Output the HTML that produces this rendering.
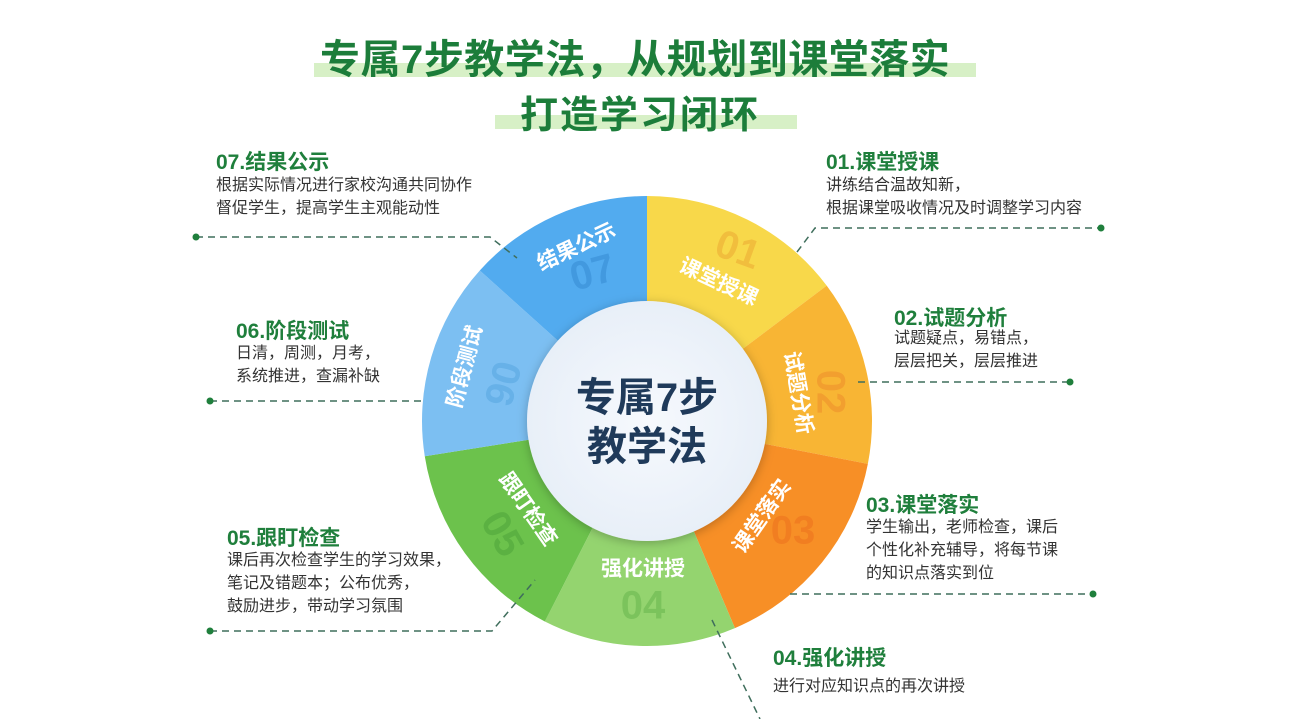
<!DOCTYPE html>
<html><head><meta charset="utf-8"><style>
html,body{margin:0;padding:0;background:#fff;}
body{width:1305px;height:719px;position:relative;overflow:hidden;font-family:"Liberation Sans","Noto Sans CJK SC",sans-serif;}
.t{position:absolute;color:#1c7d3a;font-weight:bold;white-space:nowrap;}
.bar{position:absolute;background:#d7f0c6;}
.h{position:absolute;color:#1f7f3c;font-weight:bold;font-size:21px;white-space:nowrap;}
.p{position:absolute;color:#333;font-size:16px;line-height:23px;white-space:nowrap;}
</style></head><body>
<div class="bar" style="left:314px;top:63px;width:662px;height:14px"></div>
<div class="bar" style="left:495px;top:115px;width:302px;height:14px"></div>
<div class="t" style="left:320px;top:27px;font-size:40px;letter-spacing:0.5px">专属7步教学法，从规划到课堂落实</div>
<div class="t" style="left:520px;top:84px;font-size:38px;letter-spacing:2px">打造学习闭环</div>

<svg width="1305" height="719" style="position:absolute;left:0;top:0">
<defs>
<radialGradient id="ig" cx="50%" cy="50%" r="50%"><stop offset="0" stop-color="#f6f9fd"/><stop offset="1" stop-color="#e8eff8"/></radialGradient>
<filter id="sh" x="-20%" y="-20%" width="140%" height="140%"><feDropShadow dx="0" dy="2" stdDeviation="5" flood-color="#000" flood-opacity="0.25"/></filter>
</defs>
<g id="ring"></g>
<circle cx="647" cy="421" r="120" fill="url(#ig)" filter="url(#sh)"/>
<text x="647" y="411" text-anchor="middle" font-size="40" font-weight="bold" fill="#1f3a5a" font-family="Liberation Sans,Noto Sans CJK SC,sans-serif">专属7步</text>
<text x="647" y="460" text-anchor="middle" font-size="40" font-weight="bold" fill="#1f3a5a" font-family="Liberation Sans,Noto Sans CJK SC,sans-serif">教学法</text>
<g fill="none" stroke="#3f6e5c" stroke-width="1.5" stroke-dasharray="7,5">
<path d="M196 237 H490 L517 258"/>
<path d="M797 252 L815 228 H1101"/>
<path d="M858 382 H1070"/>
<path d="M210 401 H425"/>
<path d="M790 594 H1093"/>
<path d="M210 631 H492 L535 580"/>
<path d="M712 620 L760 719"/>
</g>
<g fill="#1f7f3c">
<circle cx="196" cy="237" r="3.5"/><circle cx="1101" cy="228" r="3.5"/><circle cx="1070" cy="382" r="3.5"/>
<circle cx="210" cy="401" r="3.5"/><circle cx="1093" cy="594" r="3.5"/><circle cx="210" cy="631" r="3.5"/>
</g>
</svg>

<div class="h" style="left:216px;top:146px">07.结果公示</div>
<div class="p" style="left:216px;top:174px">根据实际情况进行家校沟通共同协作<br>督促学生，提高学生主观能动性</div>
<div class="h" style="left:826px;top:146px">01.课堂授课</div>
<div class="p" style="left:826px;top:174px">讲练结合温故知新，<br>根据课堂吸收情况及时调整学习内容</div>
<div class="h" style="left:894px;top:302px">02.试题分析</div>
<div class="p" style="left:894px;top:327px">试题疑点，易错点，<br>层层把关，层层推进</div>
<div class="h" style="left:236px;top:315px">06.阶段测试</div>
<div class="p" style="left:236px;top:342px">日清，周测，月考，<br>系统推进，查漏补缺</div>
<div class="h" style="left:866px;top:489px">03.课堂落实</div>
<div class="p" style="left:866px;top:516px">学生输出，老师检查，课后<br>个性化补充辅导，将每节课<br>的知识点落实到位</div>
<div class="h" style="left:227px;top:522px">05.跟盯检查</div>
<div class="p" style="left:227px;top:549px">课后再次检查学生的学习效果，<br>笔记及错题本；公布优秀，<br>鼓励进步，带动学习氛围</div>
<div class="h" style="left:773px;top:642px">04.强化讲授</div>
<div class="p" style="left:773px;top:675px">进行对应知识点的再次讲授</div>

<script>
(function(){
var cx=647,cy=421,R=225,r=118;
var b=[0,53,101,157,207,261,312,360];
var cols=["#f8d84a","#f8b534","#f78f26","#94d46f","#6cc24c","#7cbff2","#52abef"];
var nc=["#f0b83a","#f19a2e","#f07a20","#76bf58","#58ad40","#63aee6","#3f95dc"];
var labels=["课堂授课","试题分析","课堂落实","强化讲授","跟盯检查","阶段测试","结果公示"];
var nums=["01","02","03","04","05","06","07"];
var L=[[718,283,25],[797,393,80],[763,517,-55],[643,570,0],[527,510,55],[466,367,-75],[577,248,-25]];
var N=[[737,252,20],[828,392,90],[793,533,0],[643,608,0],[500,535,60],[500,383,105],[593,275,-15]];
var g=document.getElementById('ring'),s="";
function pt(a,rad){var t=(a-90)*Math.PI/180;return [cx+rad*Math.cos(t),cy+rad*Math.sin(t)];}
for(var i=0;i<7;i++){
 var a0=b[i],a1=b[i+1],p0=pt(a0,R),p1=pt(a1,R),q1=pt(a1,r),q0=pt(a0,r);
 s+='<path d="M'+p0+' A'+R+' '+R+' 0 0 1 '+p1+' L'+q1+' A'+r+' '+r+' 0 0 0 '+q0+'Z" fill="'+cols[i]+'"/>';
}
for(var i=0;i<7;i++){
 var n=N[i];
 s+='<text x="'+n[0]+'" y="'+n[1]+'" transform="rotate('+n[2]+' '+n[0]+' '+n[1]+')" text-anchor="middle" dominant-baseline="middle" font-size="40" font-weight="bold" fill="'+nc[i]+'" opacity="0.8" font-family="Liberation Sans,sans-serif">'+nums[i]+'</text>';
 var l=L[i];
 s+='<text x="'+l[0]+'" y="'+l[1]+'" transform="rotate('+l[2]+' '+l[0]+' '+l[1]+')" text-anchor="middle" dominant-baseline="middle" font-size="21" font-weight="bold" fill="#fff" font-family="Liberation Sans,Noto Sans CJK SC,sans-serif">'+labels[i]+'</text>';
}
g.innerHTML=s;
})();
</script>
</body></html>
